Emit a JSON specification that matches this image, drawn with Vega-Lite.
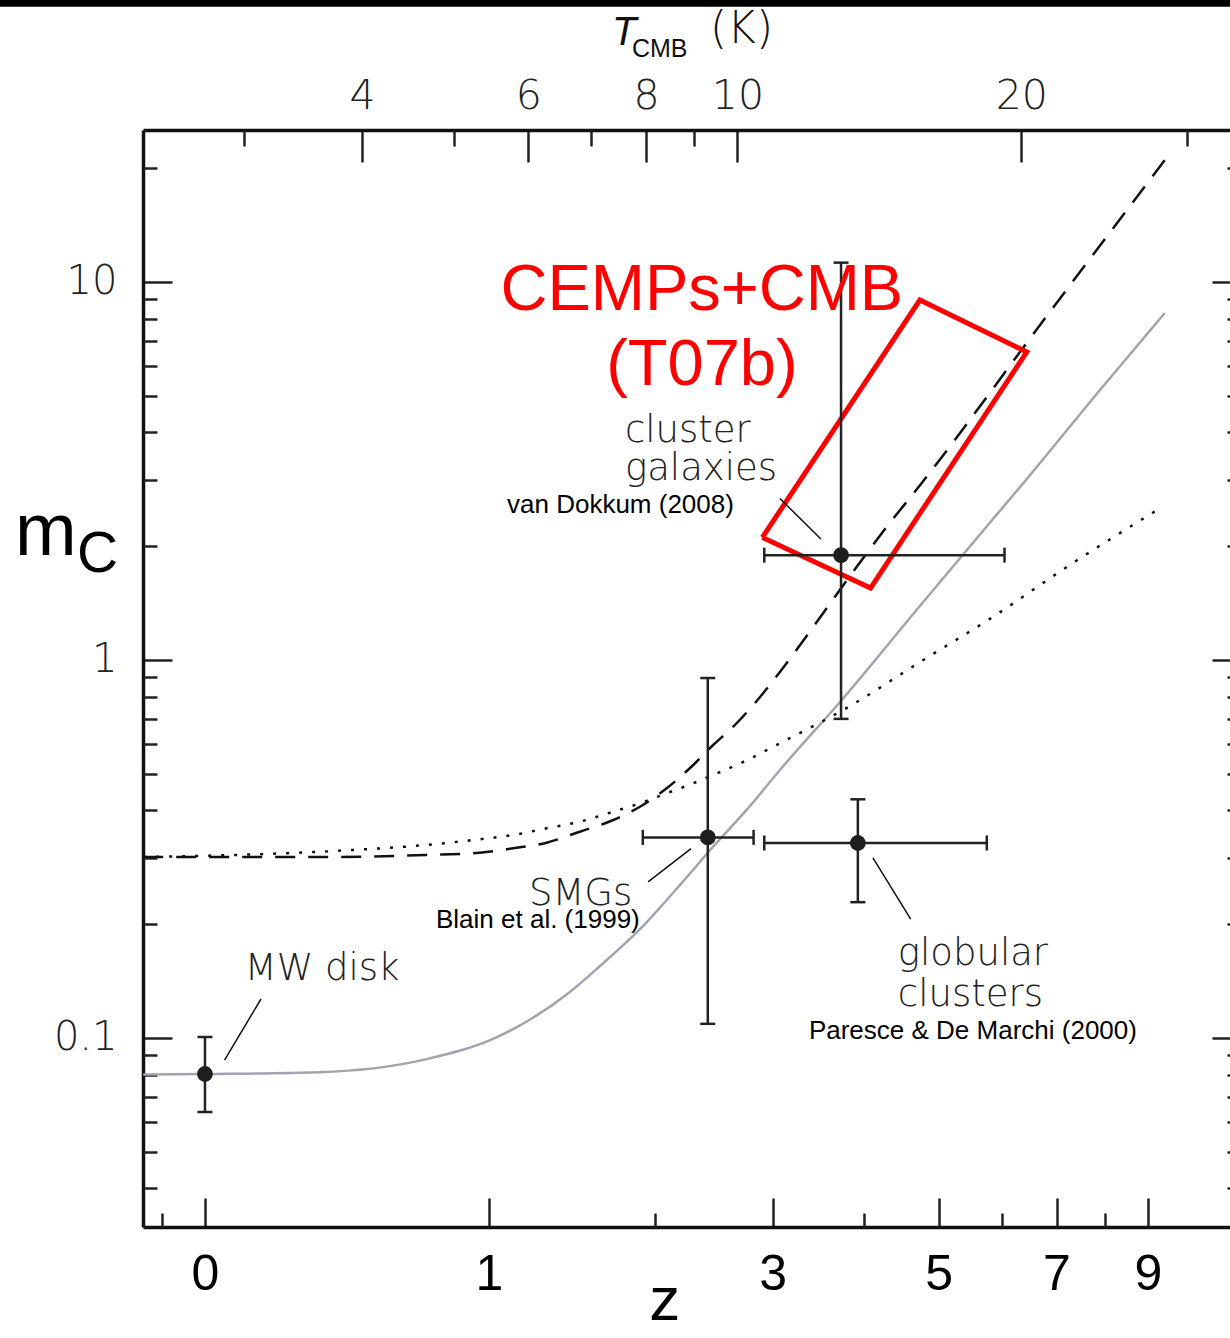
{
"$schema":"https://vega.github.io/schema/vega-lite/v6.json",
"width":1087,"height":1097,
"autosize":{"type":"none"},
"padding":{"left":143,"top":130,"right":0,"bottom":111},
"background":"white",
"config":{"view":{"stroke":null}},
"resolve":{"axis":{"x":"independent","y":"independent"}},
"datasets":{
"gray":[{"opz":0.86,"m":0.0800},{"opz":1.0,"m":0.0803},{"opz":1.32,"m":0.0812},{"opz":1.714,"m":0.0878},{"opz":2.04,"m":0.1005},{"opz":2.43,"m":0.1315},{"opz":2.624,"m":0.155},{"opz":2.893,"m":0.194},{"opz":3.216,"m":0.2600},{"opz":3.459,"m":0.3207},{"opz":3.759,"m":0.4030},{"opz":4.072,"m":0.5117},{"opz":4.75,"m":0.791},{"opz":5.745,"m":1.40},{"opz":6.85,"m":2.36},{"opz":7.41,"m":2.976},{"opz":8.896,"m":5.18},{"opz":10.42,"m":8.28}],
"dashed":[{"opz":0.86,"m":0.301},{"opz":1.32,"m":0.301},{"opz":1.714,"m":0.305},{"opz":1.957,"m":0.309},{"opz":2.123,"m":0.3176},{"opz":2.303,"m":0.3286},{"opz":2.498,"m":0.3513},{"opz":2.71,"m":0.3773},{"opz":2.893,"m":0.4091},{"opz":3.088,"m":0.4576},{"opz":3.295,"m":0.5275},{"opz":3.459,"m":0.5957},{"opz":3.633,"m":0.6663},{"opz":3.815,"m":0.7603},{"opz":4.058,"m":0.92},{"opz":4.424,"m":1.23},{"opz":4.83,"m":1.667},{"opz":5.27,"m":2.23},{"opz":5.745,"m":2.92},{"opz":7.87,"m":8.33},{"opz":10.42,"m":21.0}],
"dotted":[{"opz":0.86,"m":0.301},{"opz":1.32,"m":0.311},{"opz":1.714,"m":0.324},{"opz":1.957,"m":0.3355},{"opz":2.123,"m":0.3444},{"opz":2.303,"m":0.3587},{"opz":2.498,"m":0.3735},{"opz":2.71,"m":0.3969},{"opz":2.893,"m":0.4177},{"opz":3.088,"m":0.444},{"opz":3.295,"m":0.4719},{"opz":3.459,"m":0.4965},{"opz":3.759,"m":0.5437},{"opz":4.005,"m":0.5896},{"opz":4.83,"m":0.755},{"opz":5.745,"m":0.991},{"opz":6.85,"m":1.30},{"opz":8.14,"m":1.74},{"opz":10.3,"m":2.52}],
"box":[{"i":0,"opz":3.901,"m":2.11},{"i":1,"opz":5.73,"m":8.96},{"i":2,"opz":7.44,"m":6.53},{"i":3,"opz":5.08,"m":1.55},{"i":4,"opz":3.901,"m":2.11}],
"points":[{"name":"MW disk","opz":1.0,"m":0.0803,"mlo":0.0637,"mhi":0.1006},{"name":"SMGs","opz":3.414,"m":0.3394,"mlo":0.109,"mhi":0.896,"opzlo":2.913,"opzhi":3.818},{"name":"globular clusters","opz":4.925,"m":0.328,"mlo":0.2287,"mhi":0.428,"opzlo":3.919,"opzhi":6.748},{"name":"cluster galaxies","opz":4.727,"m":1.894,"mlo":0.6985,"mhi":11.25,"opzlo":3.919,"opzhi":7.046}],
"leaders":[{"opz":4.072,"m":2.674,"opz2":4.5,"m2":2.09},{"opz":3.277,"m":0.317,"opz2":2.951,"m2":0.2587},{"opz":5.11,"m":0.2994,"opz2":5.603,"m2":0.2064},{"opz":1.1466,"m":0.1268,"opz2":1.049,"m2":0.0874}],
"red":[{"t":"CEMPs+CMB","opz":3.365,"m":8.43},{"t":"(T07b)","opz":3.365,"m":5.34}],
"thin":[{"t":"cluster","opz":2.789,"m":3.77},{"t":"galaxies","opz":2.789,"m":2.993},{"t":"SMGs","opz":2.206,"m":0.2248},{"t":"MW disk","opz":1.102,"m":0.1423},{"t":"globular","opz":5.43,"m":0.156},{"t":"clusters","opz":5.43,"m":0.1215}],
"cite":[{"t":"van Dokkum (2008)","opz":2.091,"m":2.448},{"t":"Blain et al. (1999)","opz":1.758,"m":0.1954},{"t":"Paresce & De Marchi (2000)","opz":4.37,"m":0.0994}],
"topbar":[{"opz":0.5,"opz2":20,"m":54.6}]
},
"layer":[
{"data":{"name":"gray"},"mark":{"type":"line","color":"#a0a5ac","strokeWidth":2.5,"interpolate":"monotone"},
 "encoding":{"x":{"field":"opz","type":"quantitative","scale":{"type":"log","domain":[0.8596,12.22],"nice":false},
   "axis":{"orient":"bottom","values":[1,2,4,6,8,10],"labelExpr":"format(datum.value-1,'d')","tickSize":-29,"tickWidth":2.5,"tickColor":"#222222","domain":true,"domainColor":"#111111","domainWidth":3.5,"labelFont":"Liberation Sans","labelFontSize":50,"labelColor":"black","labelPadding":51,"labelBaseline":"top","labelFlush":false,"labelOverlap":false,"grid":false,"title":null}},
  "y":{"field":"m","type":"quantitative","scale":{"type":"log","domain":[0.03162,25.24],"nice":false},
   "axis":{"orient":"left","values":[0.1,1,10],"labelExpr":"datum.value < 0.5 ? '0.1' : format(datum.value,'d')","tickSize":-29,"tickWidth":2.5,"tickColor":"#222222","domain":true,"domainColor":"#111111","domainWidth":3.5,"labelFont":"DejaVu Sans","labelFontWeight":200,"labelFontSize":40,"labelColor":"#222222","labelPadding":55,"labelBaseline":"middle","labelAlign":"right","labelFlush":false,"labelOverlap":false,"grid":false,"title":null}},
  "order":{"field":"opz","type":"quantitative"}}},
{"data":{"name":"dashed"},"mark":{"type":"line","color":"#111111","strokeWidth":2.5,"strokeDash":[20,13],"interpolate":"monotone"},
 "encoding":{"x":{"field":"opz","type":"quantitative","scale":{"type":"log","domain":[0.8596,12.22],"nice":false},
   "axis":{"orient":"bottom","values":[0.9,3,5,7,9],"tickSize":-14,"tickWidth":2.5,"tickColor":"#222222","labels":false,"domain":false,"grid":false,"title":null}},
  "y":{"field":"m","type":"quantitative","scale":{"type":"log","domain":[0.03162,25.24],"nice":false},
   "axis":{"orient":"left","values":[0.04,0.05,0.06,0.07,0.08,0.09,0.2,0.3,0.4,0.5,0.6,0.7,0.8,0.9,2,3,4,5,6,7,8,9,20],"tickSize":-14,"tickWidth":2.5,"tickColor":"#222222","labels":false,"domain":false,"grid":false,"title":null}},
  "order":{"field":"opz","type":"quantitative"}}},
{"data":{"name":"dotted"},"mark":{"type":"line","color":"#111111","strokeWidth":2.5,"strokeDash":[3,10],"interpolate":"monotone"},
 "encoding":{"x":{"field":"opz","type":"quantitative","scale":{"type":"log","domain":[0.8596,12.22],"nice":false},
   "axis":{"orient":"top","values":[1.46789,2.20183,2.93578,3.66972,7.33945],"labelExpr":"format(datum.value*2.725,'.0f')","tickSize":-32,"tickWidth":2.5,"tickColor":"#222222","domain":true,"domainColor":"#111111","domainWidth":3.5,"labelFont":"DejaVu Sans","labelFontWeight":200,"labelFontSize":41,"labelColor":"#222222","labelPadding":54,"labelBaseline":"alphabetic","labelFlush":false,"labelOverlap":false,"grid":false,"title":null}},
  "y":{"field":"m","type":"quantitative","scale":{"type":"log","domain":[0.03162,25.24],"nice":false},
   "axis":{"orient":"right","offset":11,"values":[0.1,1,10],"tickSize":-29,"tickWidth":2.5,"tickColor":"#222222","labels":false,"domain":true,"domainColor":"#111111","domainWidth":3.5,"grid":false,"title":null}},
  "order":{"field":"opz","type":"quantitative"}}},
{"data":{"name":"box"},"mark":{"type":"line","color":"#ff0000","strokeWidth":5,"strokeJoin":"miter"},
 "encoding":{"x":{"field":"opz","type":"quantitative","scale":{"type":"log","domain":[0.8596,12.22],"nice":false},
   "axis":{"orient":"top","values":[1.10092,1.83486,2.56881,3.30275,11.00917],"tickSize":-16,"tickWidth":2.5,"tickColor":"#222222","labels":false,"domain":false,"grid":false,"title":null}},
  "y":{"field":"m","type":"quantitative","scale":{"type":"log","domain":[0.03162,25.24],"nice":false},
   "axis":{"orient":"right","offset":11,"values":[0.04,0.05,0.06,0.07,0.08,0.09,0.2,0.3,0.4,0.5,0.6,0.7,0.8,0.9,2,3,4,5,6,7,8,9,20],"tickSize":-14,"tickWidth":2.5,"tickColor":"#222222","labels":false,"domain":false,"grid":false,"title":null}},
  "order":{"field":"i","type":"quantitative"}}},
{"data":{"name":"points"},"mark":{"type":"rule","color":"#222222","strokeWidth":2.5},
 "encoding":{"x":{"field":"opz","type":"quantitative","scale":{"type":"log","domain":[0.8596,12.22],"nice":false},"axis":null},
  "y":{"field":"mlo","type":"quantitative","scale":{"type":"log","domain":[0.03162,25.24],"nice":false},"axis":null},
  "y2":{"field":"mhi"}}},
{"data":{"name":"points"},"transform":[{"filter":{"field":"opzlo","valid":true}}],"mark":{"type":"rule","color":"#222222","strokeWidth":2.5},
 "encoding":{"x":{"field":"opzlo","type":"quantitative","scale":{"type":"log","domain":[0.8596,12.22],"nice":false},"axis":null},
  "x2":{"field":"opzhi"},
  "y":{"field":"m","type":"quantitative","scale":{"type":"log","domain":[0.03162,25.24],"nice":false},"axis":null}}},
{"data":{"name":"points"},"mark":{"type":"tick","orient":"horizontal","size":15,"thickness":2.5,"color":"#222222","opacity":1},
 "encoding":{"x":{"field":"opz","type":"quantitative","scale":{"type":"log","domain":[0.8596,12.22],"nice":false},"axis":null},
  "y":{"field":"mlo","type":"quantitative","scale":{"type":"log","domain":[0.03162,25.24],"nice":false},"axis":null}}},
{"data":{"name":"points"},"mark":{"type":"tick","orient":"horizontal","size":15,"thickness":2.5,"color":"#222222","opacity":1},
 "encoding":{"x":{"field":"opz","type":"quantitative","scale":{"type":"log","domain":[0.8596,12.22],"nice":false},"axis":null},
  "y":{"field":"mhi","type":"quantitative","scale":{"type":"log","domain":[0.03162,25.24],"nice":false},"axis":null}}},
{"data":{"name":"points"},"transform":[{"filter":{"field":"opzlo","valid":true}}],"mark":{"type":"tick","orient":"vertical","size":15,"thickness":2.5,"color":"#222222","opacity":1},
 "encoding":{"x":{"field":"opzlo","type":"quantitative","scale":{"type":"log","domain":[0.8596,12.22],"nice":false},"axis":null},
  "y":{"field":"m","type":"quantitative","scale":{"type":"log","domain":[0.03162,25.24],"nice":false},"axis":null}}},
{"data":{"name":"points"},"transform":[{"filter":{"field":"opzlo","valid":true}}],"mark":{"type":"tick","orient":"vertical","size":15,"thickness":2.5,"color":"#222222","opacity":1},
 "encoding":{"x":{"field":"opzhi","type":"quantitative","scale":{"type":"log","domain":[0.8596,12.22],"nice":false},"axis":null},
  "y":{"field":"m","type":"quantitative","scale":{"type":"log","domain":[0.03162,25.24],"nice":false},"axis":null}}},
{"data":{"name":"points"},"mark":{"type":"circle","size":250,"color":"#1e1e1e","opacity":1},
 "encoding":{"x":{"field":"opz","type":"quantitative","scale":{"type":"log","domain":[0.8596,12.22],"nice":false},"axis":null},
  "y":{"field":"m","type":"quantitative","scale":{"type":"log","domain":[0.03162,25.24],"nice":false},"axis":null}}},
{"data":{"name":"leaders"},"mark":{"type":"rule","color":"#111111","strokeWidth":1.5},
 "encoding":{"x":{"field":"opz","type":"quantitative","scale":{"type":"log","domain":[0.8596,12.22],"nice":false},"axis":null},
  "x2":{"field":"opz2"},
  "y":{"field":"m","type":"quantitative","scale":{"type":"log","domain":[0.03162,25.24],"nice":false},"axis":null},
  "y2":{"field":"m2"}}},
{"data":{"name":"red"},"mark":{"type":"text","align":"center","baseline":"alphabetic","font":"Liberation Sans","fontSize":65,"color":"#ff0000"},
 "encoding":{"x":{"field":"opz","type":"quantitative","scale":{"type":"log","domain":[0.8596,12.22],"nice":false},"axis":null},
  "y":{"field":"m","type":"quantitative","scale":{"type":"log","domain":[0.03162,25.24],"nice":false},"axis":null},
  "text":{"field":"t"}}},
{"data":{"name":"thin"},"mark":{"type":"text","align":"left","baseline":"alphabetic","font":"DejaVu Sans","fontWeight":200,"fontSize":37,"color":"#222222"},
 "encoding":{"x":{"field":"opz","type":"quantitative","scale":{"type":"log","domain":[0.8596,12.22],"nice":false},"axis":null},
  "y":{"field":"m","type":"quantitative","scale":{"type":"log","domain":[0.03162,25.24],"nice":false},"axis":null},
  "text":{"field":"t"}}},
{"data":{"name":"cite"},"mark":{"type":"text","align":"left","baseline":"alphabetic","font":"Liberation Sans","fontSize":26,"color":"#000000"},
 "encoding":{"x":{"field":"opz","type":"quantitative","scale":{"type":"log","domain":[0.8596,12.22],"nice":false},"axis":null},
  "y":{"field":"m","type":"quantitative","scale":{"type":"log","domain":[0.03162,25.24],"nice":false},"axis":null},
  "text":{"field":"t"}}},
{"data":{"values":[{"t":"m","opz":0.6288,"m":1.896}]},"mark":{"type":"text","align":"left","baseline":"alphabetic","font":"Liberation Sans","fontSize":74,"color":"#000000"},
 "encoding":{"x":{"field":"opz","type":"quantitative","scale":{"type":"log","domain":[0.8596,12.22],"nice":false},"axis":null},
  "y":{"field":"m","type":"quantitative","scale":{"type":"log","domain":[0.03162,25.24],"nice":false},"axis":null},
  "text":{"field":"t"}}},
{"data":{"values":[{"t":"C","opz":0.7315,"m":1.709}]},"mark":{"type":"text","align":"left","baseline":"alphabetic","font":"Liberation Sans","fontSize":57,"color":"#000000"},
 "encoding":{"x":{"field":"opz","type":"quantitative","scale":{"type":"log","domain":[0.8596,12.22],"nice":false},"axis":null},
  "y":{"field":"m","type":"quantitative","scale":{"type":"log","domain":[0.03162,25.24],"nice":false},"axis":null},
  "text":{"field":"t"}}},
{"data":{"values":[{"t":"z","opz":3.074,"m":0.01795}]},"mark":{"type":"text","align":"center","baseline":"alphabetic","font":"Liberation Sans","fontSize":62,"color":"#000000"},
 "encoding":{"x":{"field":"opz","type":"quantitative","scale":{"type":"log","domain":[0.8596,12.22],"nice":false},"axis":null},
  "y":{"field":"m","type":"quantitative","scale":{"type":"log","domain":[0.03162,25.24],"nice":false},"axis":null},
  "text":{"field":"t"}}},
{"data":{"values":[{"t":"T","opz":2.702,"m":42.4}]},"mark":{"type":"text","align":"left","baseline":"alphabetic","font":"Liberation Sans","fontStyle":"italic","fontSize":40,"color":"#111111"},
 "encoding":{"x":{"field":"opz","type":"quantitative","scale":{"type":"log","domain":[0.8596,12.22],"nice":false},"axis":null},
  "y":{"field":"m","type":"quantitative","scale":{"type":"log","domain":[0.03162,25.24],"nice":false},"axis":null},
  "text":{"field":"t"}}},
{"data":{"values":[{"t":"CMB","opz":2.837,"m":39.38}]},"mark":{"type":"text","align":"left","baseline":"alphabetic","font":"Liberation Sans","fontSize":25,"color":"#111111"},
 "encoding":{"x":{"field":"opz","type":"quantitative","scale":{"type":"log","domain":[0.8596,12.22],"nice":false},"axis":null},
  "y":{"field":"m","type":"quantitative","scale":{"type":"log","domain":[0.03162,25.24],"nice":false},"axis":null},
  "text":{"field":"t"}}},
{"data":{"values":[{"t":"(K)","opz":3.432,"m":42.88}]},"mark":{"type":"text","align":"left","baseline":"alphabetic","font":"DejaVu Sans","fontWeight":200,"fontSize":44,"color":"#111111"},
 "encoding":{"x":{"field":"opz","type":"quantitative","scale":{"type":"log","domain":[0.8596,12.22],"nice":false},"axis":null},
  "y":{"field":"m","type":"quantitative","scale":{"type":"log","domain":[0.03162,25.24],"nice":false},"axis":null},
  "text":{"field":"t"}}},
{"data":{"name":"topbar"},"mark":{"type":"rule","color":"#000000","strokeWidth":7},
 "encoding":{"x":{"field":"opz","type":"quantitative","scale":{"type":"log","domain":[0.8596,12.22],"nice":false},"axis":null},
  "x2":{"field":"opz2"},
  "y":{"field":"m","type":"quantitative","scale":{"type":"log","domain":[0.03162,25.24],"nice":false},"axis":null}}}
]
}
